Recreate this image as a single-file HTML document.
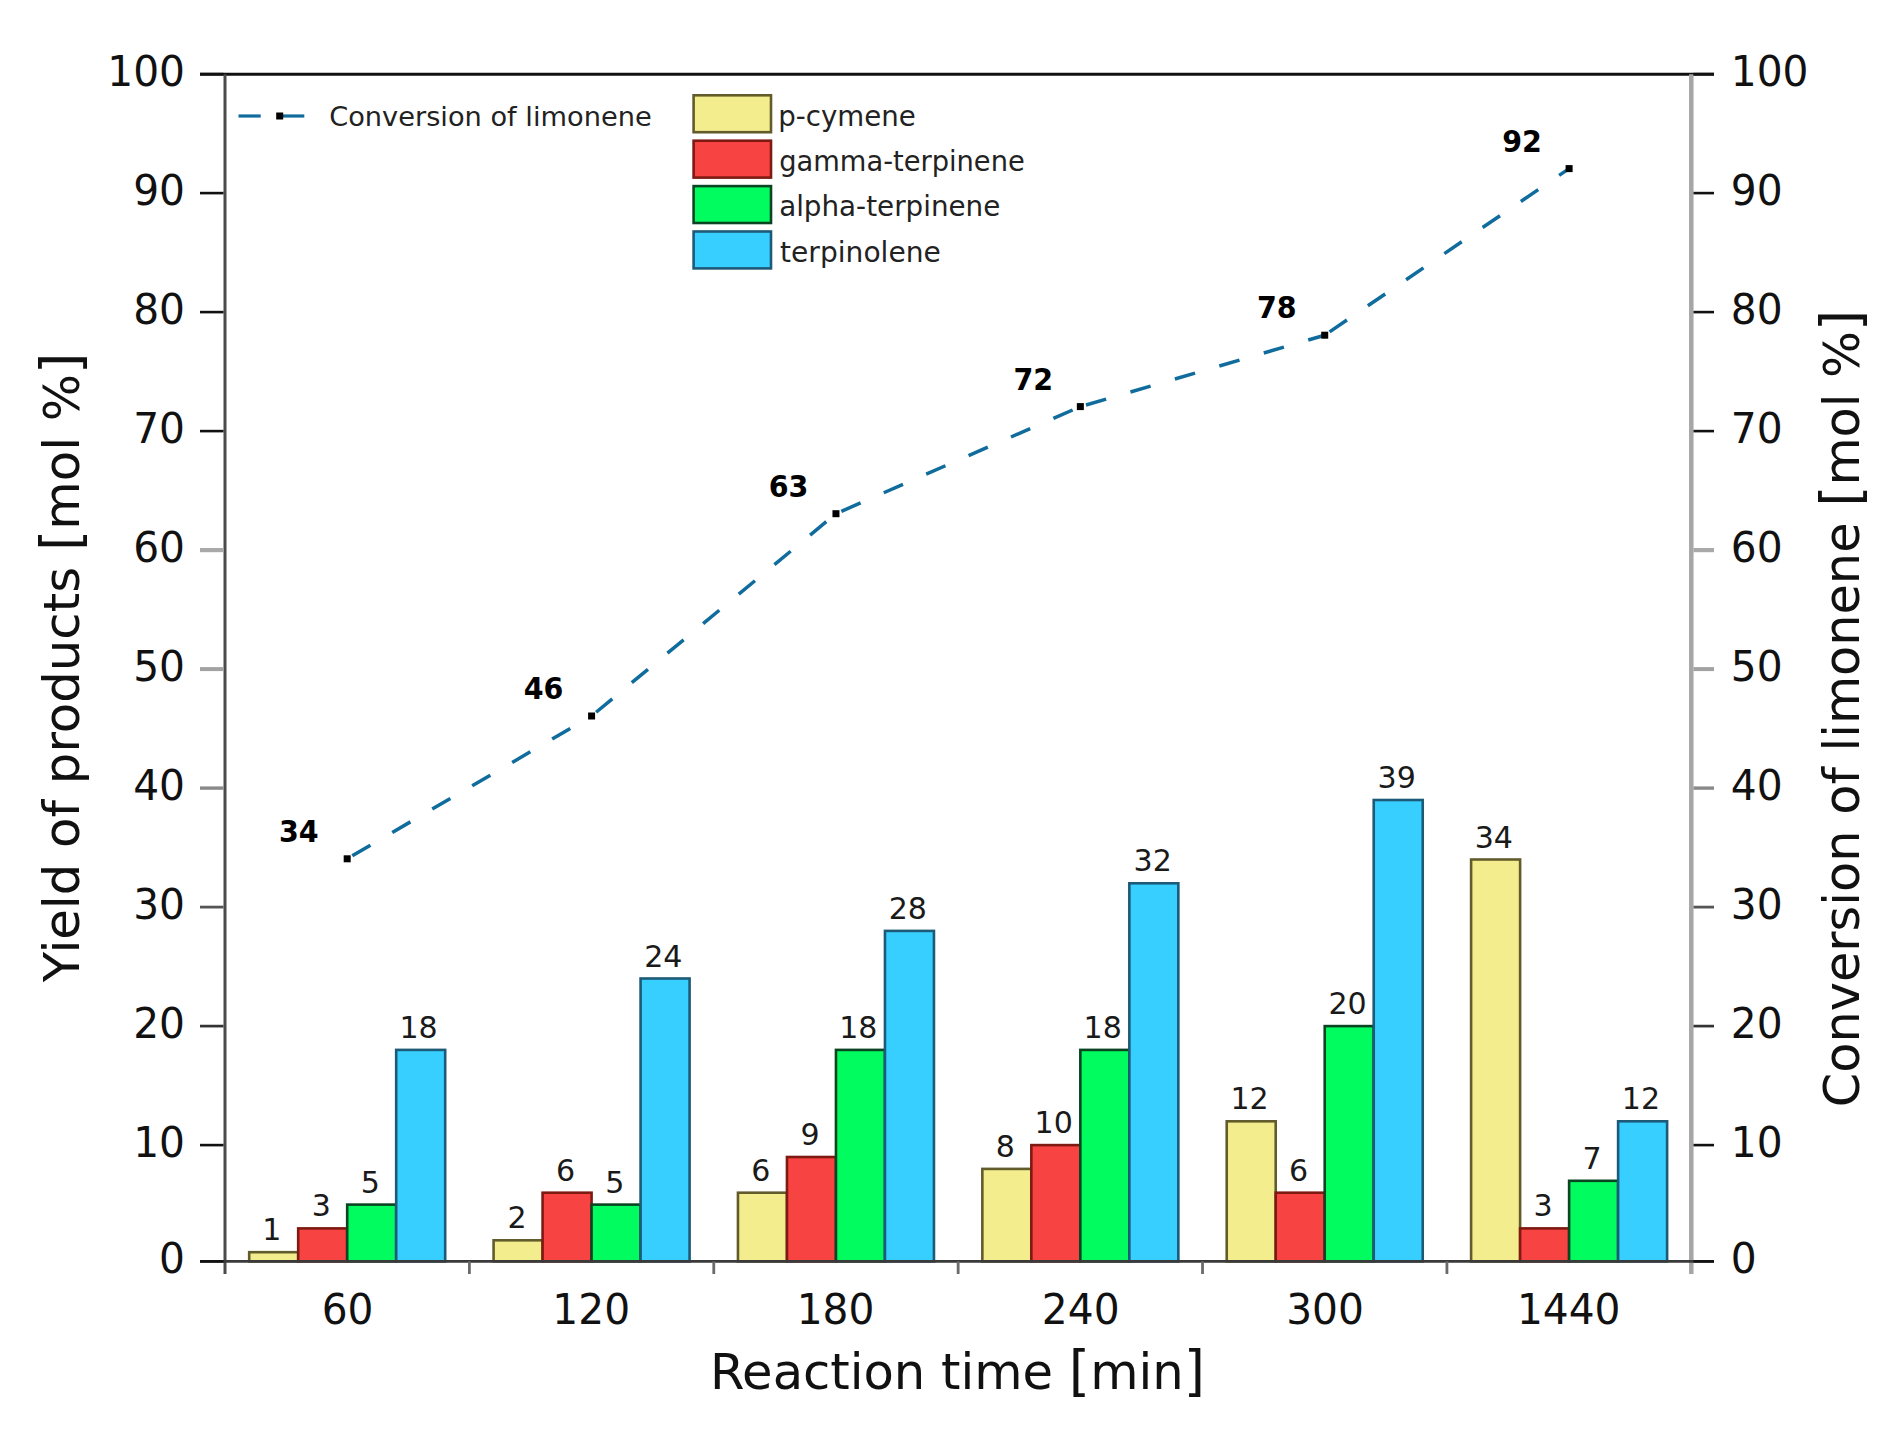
<!DOCTYPE html>
<html><head><meta charset="utf-8"><title>Chart</title>
<style>html,body{margin:0;padding:0;background:#fff;width:1903px;height:1433px;overflow:hidden}svg{display:block}</style>
</head><body>
<svg width="1903" height="1433" viewBox="0 0 1903 1433" font-family="'DejaVu Sans', 'Liberation Sans', sans-serif">
<rect width="1903" height="1433" fill="#fff"/>
<rect x="249.19" y="1252.20" width="49.00" height="9.20" fill="#F3ED8E" stroke="#625C2C" stroke-width="2.6"/>
<rect x="298.19" y="1228.40" width="49.00" height="33.00" fill="#F84343" stroke="#7E1A12" stroke-width="2.6"/>
<rect x="347.19" y="1204.60" width="49.00" height="56.80" fill="#00FC5E" stroke="#0A4422" stroke-width="2.6"/>
<rect x="396.19" y="1049.90" width="49.00" height="211.50" fill="#37CFFF" stroke="#1C5A78" stroke-width="2.6"/>
<rect x="493.58" y="1240.30" width="49.00" height="21.10" fill="#F3ED8E" stroke="#625C2C" stroke-width="2.6"/>
<rect x="542.58" y="1192.70" width="49.00" height="68.70" fill="#F84343" stroke="#7E1A12" stroke-width="2.6"/>
<rect x="591.58" y="1204.60" width="49.00" height="56.80" fill="#00FC5E" stroke="#0A4422" stroke-width="2.6"/>
<rect x="640.58" y="978.50" width="49.00" height="282.90" fill="#37CFFF" stroke="#1C5A78" stroke-width="2.6"/>
<rect x="737.96" y="1192.70" width="49.00" height="68.70" fill="#F3ED8E" stroke="#625C2C" stroke-width="2.6"/>
<rect x="786.96" y="1157.00" width="49.00" height="104.40" fill="#F84343" stroke="#7E1A12" stroke-width="2.6"/>
<rect x="835.96" y="1049.90" width="49.00" height="211.50" fill="#00FC5E" stroke="#0A4422" stroke-width="2.6"/>
<rect x="884.96" y="930.90" width="49.00" height="330.50" fill="#37CFFF" stroke="#1C5A78" stroke-width="2.6"/>
<rect x="982.34" y="1168.90" width="49.00" height="92.50" fill="#F3ED8E" stroke="#625C2C" stroke-width="2.6"/>
<rect x="1031.34" y="1145.10" width="49.00" height="116.30" fill="#F84343" stroke="#7E1A12" stroke-width="2.6"/>
<rect x="1080.34" y="1049.90" width="49.00" height="211.50" fill="#00FC5E" stroke="#0A4422" stroke-width="2.6"/>
<rect x="1129.34" y="883.30" width="49.00" height="378.10" fill="#37CFFF" stroke="#1C5A78" stroke-width="2.6"/>
<rect x="1226.72" y="1121.30" width="49.00" height="140.10" fill="#F3ED8E" stroke="#625C2C" stroke-width="2.6"/>
<rect x="1275.72" y="1192.70" width="49.00" height="68.70" fill="#F84343" stroke="#7E1A12" stroke-width="2.6"/>
<rect x="1324.72" y="1026.10" width="49.00" height="235.30" fill="#00FC5E" stroke="#0A4422" stroke-width="2.6"/>
<rect x="1373.72" y="800.00" width="49.00" height="461.40" fill="#37CFFF" stroke="#1C5A78" stroke-width="2.6"/>
<rect x="1471.11" y="859.50" width="49.00" height="401.90" fill="#F3ED8E" stroke="#625C2C" stroke-width="2.6"/>
<rect x="1520.11" y="1228.40" width="49.00" height="33.00" fill="#F84343" stroke="#7E1A12" stroke-width="2.6"/>
<rect x="1569.11" y="1180.80" width="49.00" height="80.60" fill="#00FC5E" stroke="#0A4422" stroke-width="2.6"/>
<rect x="1618.11" y="1121.30" width="49.00" height="140.10" fill="#37CFFF" stroke="#1C5A78" stroke-width="2.6"/>
<line x1="200" y1="74.3" x2="1714" y2="74.3" stroke="#111" stroke-width="3"/>
<line x1="225.0" y1="74.3" x2="225.0" y2="1274" stroke="#4a4a4a" stroke-width="3"/>
<line x1="1691.3" y1="74.3" x2="1691.3" y2="1274" stroke="#a6a6a6" stroke-width="4.5"/>
<line x1="200" y1="1261.4" x2="1714" y2="1261.4" stroke="#3a3a3a" stroke-width="2.8"/>
<line x1="200" y1="1261.40" x2="223.5" y2="1261.40" stroke="#111" stroke-width="2.6"/>
<line x1="1693.50" y1="1261.40" x2="1714" y2="1261.40" stroke="#111" stroke-width="2.6"/>
<line x1="200" y1="1145.10" x2="223.5" y2="1145.10" stroke="#111" stroke-width="2.6"/>
<line x1="1693.50" y1="1145.10" x2="1714" y2="1145.10" stroke="#111" stroke-width="2.6"/>
<line x1="200" y1="1026.10" x2="223.5" y2="1026.10" stroke="#333" stroke-width="2.7"/>
<line x1="1693.50" y1="1026.10" x2="1714" y2="1026.10" stroke="#333" stroke-width="2.7"/>
<line x1="200" y1="907.10" x2="223.5" y2="907.10" stroke="#555" stroke-width="2.8"/>
<line x1="1693.50" y1="907.10" x2="1714" y2="907.10" stroke="#555" stroke-width="2.8"/>
<line x1="200" y1="788.10" x2="223.5" y2="788.10" stroke="#8a8a8a" stroke-width="3.4"/>
<line x1="1693.50" y1="788.10" x2="1714" y2="788.10" stroke="#8a8a8a" stroke-width="3.4"/>
<line x1="200" y1="669.10" x2="223.5" y2="669.10" stroke="#a2a2a2" stroke-width="4.0"/>
<line x1="1693.50" y1="669.10" x2="1714" y2="669.10" stroke="#a2a2a2" stroke-width="4.0"/>
<line x1="200" y1="550.10" x2="223.5" y2="550.10" stroke="#a9a9a9" stroke-width="4.2"/>
<line x1="1693.50" y1="550.10" x2="1714" y2="550.10" stroke="#a9a9a9" stroke-width="4.2"/>
<line x1="200" y1="431.10" x2="223.5" y2="431.10" stroke="#111" stroke-width="2.6"/>
<line x1="1693.50" y1="431.10" x2="1714" y2="431.10" stroke="#111" stroke-width="2.6"/>
<line x1="200" y1="312.10" x2="223.5" y2="312.10" stroke="#111" stroke-width="2.6"/>
<line x1="1693.50" y1="312.10" x2="1714" y2="312.10" stroke="#111" stroke-width="2.6"/>
<line x1="200" y1="193.10" x2="223.5" y2="193.10" stroke="#111" stroke-width="2.6"/>
<line x1="1693.50" y1="193.10" x2="1714" y2="193.10" stroke="#111" stroke-width="2.6"/>
<line x1="200" y1="74.10" x2="223.5" y2="74.10" stroke="#111" stroke-width="2.6"/>
<line x1="1693.50" y1="74.10" x2="1714" y2="74.10" stroke="#111" stroke-width="2.6"/>
<line x1="469.38" y1="1261.4" x2="469.38" y2="1274" stroke="#6a6a6a" stroke-width="2.8"/>
<line x1="713.77" y1="1261.4" x2="713.77" y2="1274" stroke="#6a6a6a" stroke-width="2.8"/>
<line x1="958.15" y1="1261.4" x2="958.15" y2="1274" stroke="#6a6a6a" stroke-width="2.8"/>
<line x1="1202.53" y1="1261.4" x2="1202.53" y2="1274" stroke="#6a6a6a" stroke-width="2.8"/>
<line x1="1446.92" y1="1261.4" x2="1446.92" y2="1274" stroke="#6a6a6a" stroke-width="2.8"/>
<text x="159.09" y="1272.80" font-size="42.5" textLength="25.90" lengthAdjust="spacingAndGlyphs" fill="#111">0</text>
<text x="1730.82" y="1272.80" font-size="42.5" textLength="25.90" lengthAdjust="spacingAndGlyphs" fill="#111">0</text>
<text x="133.20" y="1156.50" font-size="42.5" textLength="51.81" lengthAdjust="spacingAndGlyphs" fill="#111">10</text>
<text x="1730.82" y="1156.50" font-size="42.5" textLength="51.81" lengthAdjust="spacingAndGlyphs" fill="#111">10</text>
<text x="133.20" y="1037.50" font-size="42.5" textLength="51.81" lengthAdjust="spacingAndGlyphs" fill="#111">20</text>
<text x="1730.82" y="1037.50" font-size="42.5" textLength="51.81" lengthAdjust="spacingAndGlyphs" fill="#111">20</text>
<text x="133.20" y="918.50" font-size="42.5" textLength="51.81" lengthAdjust="spacingAndGlyphs" fill="#111">30</text>
<text x="1730.82" y="918.50" font-size="42.5" textLength="51.81" lengthAdjust="spacingAndGlyphs" fill="#111">30</text>
<text x="133.20" y="799.50" font-size="42.5" textLength="51.81" lengthAdjust="spacingAndGlyphs" fill="#111">40</text>
<text x="1730.82" y="799.50" font-size="42.5" textLength="51.81" lengthAdjust="spacingAndGlyphs" fill="#111">40</text>
<text x="133.20" y="680.50" font-size="42.5" textLength="51.81" lengthAdjust="spacingAndGlyphs" fill="#111">50</text>
<text x="1730.82" y="680.50" font-size="42.5" textLength="51.81" lengthAdjust="spacingAndGlyphs" fill="#111">50</text>
<text x="133.20" y="561.50" font-size="42.5" textLength="51.81" lengthAdjust="spacingAndGlyphs" fill="#111">60</text>
<text x="1730.82" y="561.50" font-size="42.5" textLength="51.81" lengthAdjust="spacingAndGlyphs" fill="#111">60</text>
<text x="133.20" y="442.50" font-size="42.5" textLength="51.81" lengthAdjust="spacingAndGlyphs" fill="#111">70</text>
<text x="1730.82" y="442.50" font-size="42.5" textLength="51.81" lengthAdjust="spacingAndGlyphs" fill="#111">70</text>
<text x="133.20" y="323.50" font-size="42.5" textLength="51.81" lengthAdjust="spacingAndGlyphs" fill="#111">80</text>
<text x="1730.82" y="323.50" font-size="42.5" textLength="51.81" lengthAdjust="spacingAndGlyphs" fill="#111">80</text>
<text x="133.20" y="204.50" font-size="42.5" textLength="51.81" lengthAdjust="spacingAndGlyphs" fill="#111">90</text>
<text x="1730.82" y="204.50" font-size="42.5" textLength="51.81" lengthAdjust="spacingAndGlyphs" fill="#111">90</text>
<text x="107.30" y="85.50" font-size="42.5" textLength="77.71" lengthAdjust="spacingAndGlyphs" fill="#111">100</text>
<text x="1730.82" y="85.50" font-size="42.5" textLength="77.71" lengthAdjust="spacingAndGlyphs" fill="#111">100</text>
<text x="321.72" y="1324.20" font-size="42.5" textLength="51.81" lengthAdjust="spacingAndGlyphs" fill="#111">60</text>
<text x="552.34" y="1324.20" font-size="42.5" textLength="77.71" lengthAdjust="spacingAndGlyphs" fill="#111">120</text>
<text x="796.72" y="1324.20" font-size="42.5" textLength="77.71" lengthAdjust="spacingAndGlyphs" fill="#111">180</text>
<text x="1041.84" y="1324.20" font-size="42.5" textLength="77.71" lengthAdjust="spacingAndGlyphs" fill="#111">240</text>
<text x="1286.18" y="1324.20" font-size="42.5" textLength="77.71" lengthAdjust="spacingAndGlyphs" fill="#111">300</text>
<text x="1516.92" y="1324.20" font-size="42.5" textLength="103.61" lengthAdjust="spacingAndGlyphs" fill="#111">1440</text>
<text x="262.36" y="1240.20" font-size="31" textLength="19.13" lengthAdjust="spacingAndGlyphs" fill="#1a1a1a">1</text>
<text x="311.69" y="1216.40" font-size="31" textLength="19.13" lengthAdjust="spacingAndGlyphs" fill="#1a1a1a">3</text>
<text x="360.78" y="1192.60" font-size="31" textLength="19.13" lengthAdjust="spacingAndGlyphs" fill="#1a1a1a">5</text>
<text x="399.44" y="1037.90" font-size="31" textLength="38.26" lengthAdjust="spacingAndGlyphs" fill="#1a1a1a">18</text>
<text x="507.40" y="1228.30" font-size="31" textLength="19.13" lengthAdjust="spacingAndGlyphs" fill="#1a1a1a">2</text>
<text x="555.89" y="1180.70" font-size="31" textLength="19.13" lengthAdjust="spacingAndGlyphs" fill="#1a1a1a">6</text>
<text x="605.16" y="1192.60" font-size="31" textLength="19.13" lengthAdjust="spacingAndGlyphs" fill="#1a1a1a">5</text>
<text x="644.18" y="966.50" font-size="31" textLength="38.26" lengthAdjust="spacingAndGlyphs" fill="#1a1a1a">24</text>
<text x="751.28" y="1180.70" font-size="31" textLength="19.13" lengthAdjust="spacingAndGlyphs" fill="#1a1a1a">6</text>
<text x="800.49" y="1145.00" font-size="31" textLength="19.13" lengthAdjust="spacingAndGlyphs" fill="#1a1a1a">9</text>
<text x="839.20" y="1037.90" font-size="31" textLength="38.26" lengthAdjust="spacingAndGlyphs" fill="#1a1a1a">18</text>
<text x="888.74" y="918.90" font-size="31" textLength="38.26" lengthAdjust="spacingAndGlyphs" fill="#1a1a1a">28</text>
<text x="995.78" y="1156.90" font-size="31" textLength="19.13" lengthAdjust="spacingAndGlyphs" fill="#1a1a1a">8</text>
<text x="1034.56" y="1133.10" font-size="31" textLength="38.26" lengthAdjust="spacingAndGlyphs" fill="#1a1a1a">10</text>
<text x="1083.59" y="1037.90" font-size="31" textLength="38.26" lengthAdjust="spacingAndGlyphs" fill="#1a1a1a">18</text>
<text x="1133.58" y="871.30" font-size="31" textLength="38.26" lengthAdjust="spacingAndGlyphs" fill="#1a1a1a">32</text>
<text x="1230.45" y="1109.30" font-size="31" textLength="38.26" lengthAdjust="spacingAndGlyphs" fill="#1a1a1a">12</text>
<text x="1289.04" y="1180.70" font-size="31" textLength="19.13" lengthAdjust="spacingAndGlyphs" fill="#1a1a1a">6</text>
<text x="1328.48" y="1014.10" font-size="31" textLength="38.26" lengthAdjust="spacingAndGlyphs" fill="#1a1a1a">20</text>
<text x="1377.51" y="788.00" font-size="31" textLength="38.26" lengthAdjust="spacingAndGlyphs" fill="#1a1a1a">39</text>
<text x="1474.68" y="847.50" font-size="31" textLength="38.26" lengthAdjust="spacingAndGlyphs" fill="#1a1a1a">34</text>
<text x="1533.61" y="1216.40" font-size="31" textLength="19.13" lengthAdjust="spacingAndGlyphs" fill="#1a1a1a">3</text>
<text x="1582.61" y="1168.80" font-size="31" textLength="19.13" lengthAdjust="spacingAndGlyphs" fill="#1a1a1a">7</text>
<text x="1621.83" y="1109.30" font-size="31" textLength="38.26" lengthAdjust="spacingAndGlyphs" fill="#1a1a1a">12</text>
<line x1="347.19" y1="858.80" x2="591.58" y2="716.00" stroke="#0F6C9C" stroke-width="3.5" stroke-dasharray="21 25.3" stroke-dashoffset="40.4"/>
<line x1="591.58" y1="716.00" x2="835.96" y2="513.70" stroke="#0F6C9C" stroke-width="3.5" stroke-dasharray="21 25.3" stroke-dashoffset="40.4"/>
<line x1="835.96" y1="513.70" x2="1080.34" y2="406.60" stroke="#0F6C9C" stroke-width="3.5" stroke-dasharray="21 25.3" stroke-dashoffset="40.4"/>
<line x1="1080.34" y1="406.60" x2="1324.72" y2="335.20" stroke="#0F6C9C" stroke-width="3.5" stroke-dasharray="21 25.3" stroke-dashoffset="40.4"/>
<line x1="1324.72" y1="335.20" x2="1569.11" y2="168.60" stroke="#0F6C9C" stroke-width="3.5" stroke-dasharray="21 25.3" stroke-dashoffset="40.4"/>
<rect x="343.69" y="855.30" width="7" height="7" fill="#000"/>
<text x="279.03" y="842.00" font-size="30" font-weight="bold" textLength="39.66" lengthAdjust="spacingAndGlyphs" fill="#000">34</text>
<rect x="588.08" y="712.50" width="7" height="7" fill="#000"/>
<text x="523.64" y="699.20" font-size="30" font-weight="bold" textLength="39.66" lengthAdjust="spacingAndGlyphs" fill="#000">46</text>
<rect x="832.46" y="510.20" width="7" height="7" fill="#000"/>
<text x="768.77" y="496.90" font-size="30" font-weight="bold" textLength="39.66" lengthAdjust="spacingAndGlyphs" fill="#000">63</text>
<rect x="1076.84" y="403.10" width="7" height="7" fill="#000"/>
<text x="1013.38" y="389.80" font-size="30" font-weight="bold" textLength="39.66" lengthAdjust="spacingAndGlyphs" fill="#000">72</text>
<rect x="1321.22" y="331.70" width="7" height="7" fill="#000"/>
<text x="1257.02" y="318.40" font-size="30" font-weight="bold" textLength="39.66" lengthAdjust="spacingAndGlyphs" fill="#000">78</text>
<rect x="1565.61" y="165.10" width="7" height="7" fill="#000"/>
<text x="1502.14" y="151.80" font-size="30" font-weight="bold" textLength="39.66" lengthAdjust="spacingAndGlyphs" fill="#000">92</text>
<line x1="238.5" y1="116" x2="260.7" y2="116" stroke="#0F6C9C" stroke-width="3.2"/>
<line x1="283" y1="116" x2="304.3" y2="116" stroke="#0F6C9C" stroke-width="3.2"/>
<rect x="276.2" y="112.5" width="7" height="7" fill="#000"/>
<text x="329.18" y="126.30" font-size="27.3" textLength="322.49" lengthAdjust="spacingAndGlyphs" fill="#222">Conversion of limonene</text>
<rect x="693.6" y="95.30" width="77.4" height="36.9" fill="#F3ED8E" stroke="#625C2C" stroke-width="2.6"/>
<text x="778.31" y="125.90" font-size="27.7" textLength="137.47" lengthAdjust="spacingAndGlyphs" fill="#222">p-cymene</text>
<rect x="693.6" y="140.70" width="77.4" height="36.9" fill="#F84343" stroke="#7E1A12" stroke-width="2.6"/>
<text x="779.27" y="171.10" font-size="27.7" textLength="245.46" lengthAdjust="spacingAndGlyphs" fill="#222">gamma-terpinene</text>
<rect x="693.6" y="186.10" width="77.4" height="36.9" fill="#00FC5E" stroke="#0A4422" stroke-width="2.6"/>
<text x="779.13" y="216.30" font-size="27.7" textLength="221.17" lengthAdjust="spacingAndGlyphs" fill="#222">alpha-terpinene</text>
<rect x="693.6" y="231.50" width="77.4" height="36.9" fill="#37CFFF" stroke="#1C5A78" stroke-width="2.6"/>
<text x="780.07" y="261.50" font-size="27.7" textLength="160.71" lengthAdjust="spacingAndGlyphs" fill="#222">terpinolene</text>
<g transform="translate(714.75,1388.6)"><text x="-4.86" y="0" font-size="50.5" textLength="495.06" lengthAdjust="spacingAndGlyphs" fill="#111"><tspan>Reaction time </tspan><tspan font-size="55.55" dy="1.60">[</tspan><tspan dy="-1.60">min</tspan><tspan font-size="55.55" dy="1.60">]</tspan></text></g>
<g transform="translate(78.80,982.30) rotate(-90)"><text x="0.10" y="0" font-size="50.5" textLength="629.61" lengthAdjust="spacingAndGlyphs" fill="#111"><tspan>Yield of products </tspan><tspan font-size="55.55" dy="1.60">[</tspan><tspan dy="-1.60">mol %</tspan><tspan font-size="55.55" dy="1.60">]</tspan></text></g>
<g transform="translate(1858.80,1104.50) rotate(-90)"><text x="-2.76" y="0" font-size="50.5" textLength="797.44" lengthAdjust="spacingAndGlyphs" fill="#111"><tspan>Conversion of limonene </tspan><tspan font-size="55.55" dy="1.60">[</tspan><tspan dy="-1.60">mol %</tspan><tspan font-size="55.55" dy="1.60">]</tspan></text></g>
</svg>
</body></html>
